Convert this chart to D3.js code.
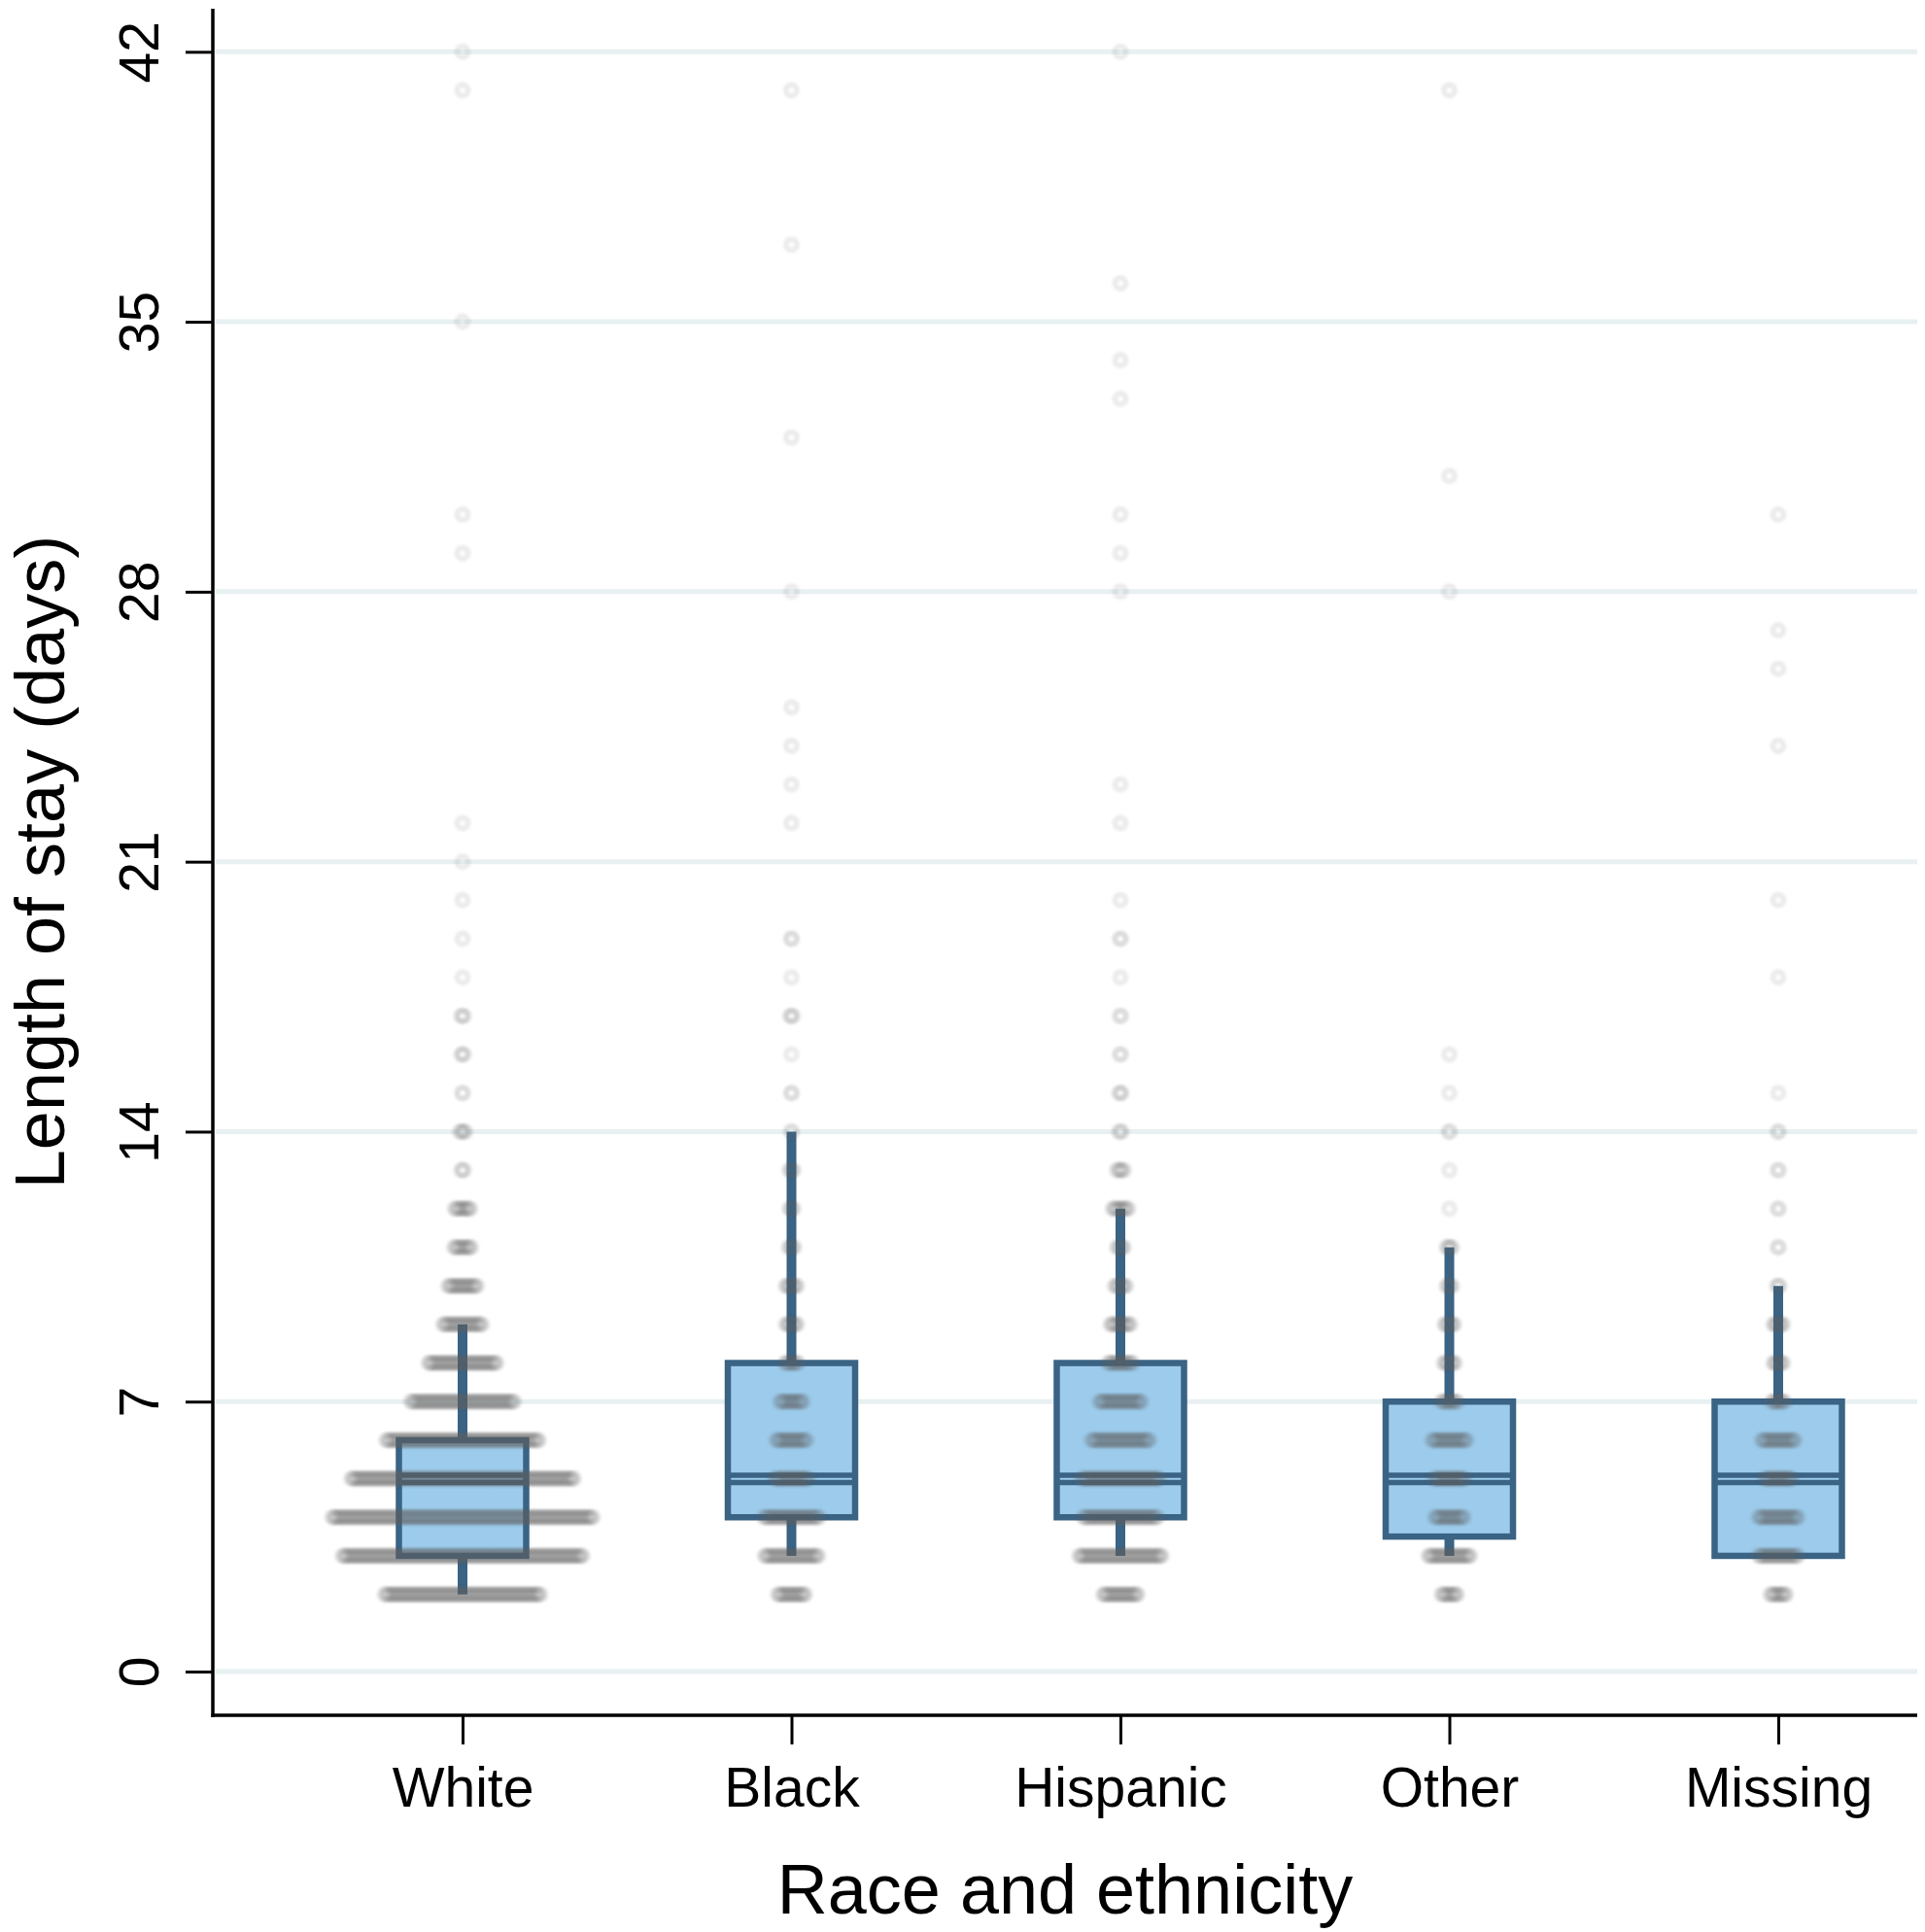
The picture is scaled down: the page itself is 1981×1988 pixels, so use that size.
<!DOCTYPE html>
<html>
<head>
<meta charset="utf-8">
<script src="https://cdn.jsdelivr.net/npm/d3@7"></script>
<style>
  html, body { margin: 0; padding: 0; background: #ffffff; }
  svg { display: block; }
  text { font-family: "Liberation Sans", Arial, Helvetica, sans-serif; fill: #000; }
</style>
</head>
<body>
<script>
// ---------------- DATA ----------------
const categories = ["White", "Black", "Hispanic", "Other", "Missing"];
const yTicks = [0, 7, 14, 21, 28, 35, 42];

// Box plot statistics (days)
const whiskerLow  = [2, 3, 3, 3, 3];
const quartile1   = [3, 4, 4, 3.5, 3];
const medians     = [5, 5, 5, 5, 5];
const quartile3   = [6, 8, 8, 7, 7];
const whiskerHigh = [9, 14, 12, 11, 10];

// Patient counts per length of stay: [days, count]
const whiteCounts = [[2,108],[3,166],[4,180],[5,154],[6,106],[7,72],[8,48],[9,28],[10,21],[11,13],[12,12],
  [13,3],[14,5],[15,2],[16,3],[17,3],[18,1],[19,1],[20,1],[21,1],[22,1],[29,1],[30,1],[35,1],[41,1],[42,1]];
const blackCounts = [[2,20],[3,38],[4,39],[5,24],[6,22],[7,17],[8,10],[9,9],[10,9],[11,5],[12,4],[13,4],
  [14,2],[15,2],[16,1],[17,3],[18,1],[19,2],[22,1],[23,1],[24,1],[25,1],[28,1],[32,1],[37,1],[41,1]];
const hispanicCounts = [[2,25],[3,58],[4,52],[5,54],[6,41],[7,30],[8,18],[9,15],[10,9],[11,6],[12,12],[13,6],
  [14,3],[15,3],[16,2],[17,2],[18,1],[19,2],[20,1],[22,1],[23,1],[28,1],[29,1],[30,1],[33,1],[34,1],[36,1],[42,1]];
const otherCounts = [[2,12],[3,30],[4,21],[5,22],[6,25],[7,12],[8,9],[9,8],[10,5],[11,5],[12,1],[13,1],
  [14,2],[15,1],[16,1],[28,1],[31,1],[41,1]];
const missingCounts = [[2,12],[3,28],[4,28],[5,20],[6,24],[7,10],[8,8],[9,8],[10,3],[11,2],[12,2],[13,2],
  [14,2],[15,1],[18,1],[20,1],[24,1],[26,1],[27,1],[30,1]];

const countsByCategory = [whiteCounts, blackCounts, hispanicCounts, otherCounts, missingCounts];

// ---------------- LAYOUT / STYLE ----------------
const W = 1981, H = 1988;
const axisX = 219, axisBottomY = 1765, axisTopY = 9, plotRight = 1973;
const boxHalf = 65.5;
const dotSpacing = 1.5;
const boxFill = "#9ccbeb", boxStroke = "#3a6384";

const svg = d3.select("body").append("svg").attr("width", W).attr("height", H);

const defs = svg.append("defs");
defs.append("filter").attr("id", "soft")
  .attr("x", "-5%").attr("y", "-5%").attr("width", "110%").attr("height", "110%")
  .append("feGaussianBlur").attr("stdDeviation", 0.9);

const y = d3.scaleLinear().domain([0, 42]).range([1720, 53.3]);
const x = d3.scalePoint().domain(categories).range([476, 1830]);

// gridlines
svg.append("g").selectAll("line").data(yTicks).join("line")
  .attr("x1", axisX + 3).attr("x2", plotRight)
  .attr("y1", d => y(d)).attr("y2", d => y(d))
  .attr("stroke", "#e8f0f2").attr("stroke-width", 5);

// boxes
const boxes = svg.append("g").selectAll("g").data(categories).join("g");
boxes.each(function(cat, i) {
  const g = d3.select(this);
  const cx = x(cat);
  // whiskers
  g.append("line").attr("x1", cx).attr("x2", cx)
    .attr("y1", y(quartile3[i])).attr("y2", y(whiskerHigh[i]))
    .attr("stroke", boxStroke).attr("stroke-width", 10);
  g.append("line").attr("x1", cx).attr("x2", cx)
    .attr("y1", y(quartile1[i])).attr("y2", y(whiskerLow[i]))
    .attr("stroke", boxStroke).attr("stroke-width", 10);
  // box
  g.append("rect")
    .attr("x", cx - boxHalf).attr("width", boxHalf * 2)
    .attr("y", y(quartile3[i])).attr("height", y(quartile1[i]) - y(quartile3[i]))
    .attr("fill", boxFill).attr("stroke", boxStroke).attr("stroke-width", 6.5);
  // median (double line as two adjoining halves)
  [-3.5, 4].forEach(off => {
    g.append("line").attr("x1", cx - boxHalf).attr("x2", cx + boxHalf)
      .attr("y1", y(medians[i]) + off).attr("y2", y(medians[i]) + off)
      .attr("stroke", boxStroke).attr("stroke-width", 5.5);
  });
});

// dots
const dotsG = svg.append("g").attr("filter", "url(#soft)");
categories.forEach((cat, i) => {
  const pts = [];
  countsByCategory[i].forEach(([day, n]) => {
    for (let k = 0; k < n; k++) {
      pts.push({ day, off: (k - (n - 1) / 2) * dotSpacing });
    }
  });
  dotsG.append("g").selectAll("circle").data(pts).join("circle")
    .attr("cx", d => x(cat) + d.off)
    .attr("cy", d => y(d.day))
    .attr("r", 5.6)
    .attr("fill", "none")
    .attr("stroke", "#606060")
    .attr("stroke-opacity", 0.115)
    .attr("stroke-width", 5.8);
});

// Y axis
const yAxisG = svg.append("g").attr("transform", `translate(${axisX},0)`)
  .call(d3.axisLeft(y).tickValues(yTicks).tickSize(28).tickSizeOuter(0).tickFormat(d3.format("d")));
yAxisG.select(".domain").remove();
yAxisG.selectAll(".tick line").attr("stroke", "#000").attr("stroke-width", 3);
yAxisG.selectAll(".tick text")
  .attr("x", null).attr("dy", null)
  .attr("text-anchor", "middle")
  .attr("transform", "translate(-56,0) rotate(-90)")
  .style("font-size", "57px");
svg.append("line").attr("x1", axisX).attr("x2", axisX)
  .attr("y1", axisTopY).attr("y2", axisBottomY + 2)
  .attr("stroke", "#000").attr("stroke-width", 3.5);

// X axis
const xAxisG = svg.append("g").attr("transform", `translate(0,${axisBottomY})`)
  .call(d3.axisBottom(x).tickSize(30).tickSizeOuter(0));
xAxisG.select(".domain").remove();
xAxisG.selectAll(".tick line").attr("stroke", "#000").attr("stroke-width", 3);
xAxisG.selectAll(".tick text").attr("y", 94).attr("dy", null).style("font-size", "57px");
svg.append("line").attr("x1", axisX - 1.5).attr("x2", plotRight)
  .attr("y1", axisBottomY).attr("y2", axisBottomY)
  .attr("stroke", "#000").attr("stroke-width", 3.5);

// axis titles
svg.append("text").attr("x", (axisX + plotRight) / 2).attr("y", 1969)
  .attr("text-anchor", "middle").style("font-size", "72px")
  .text("Race and ethnicity");
svg.append("text")
  .attr("transform", `translate(66,${(axisTopY + axisBottomY) / 2}) rotate(-90)`)
  .attr("text-anchor", "middle").style("font-size", "72px")
  .text("Length of stay (days)");
</script>
</body>
</html>
